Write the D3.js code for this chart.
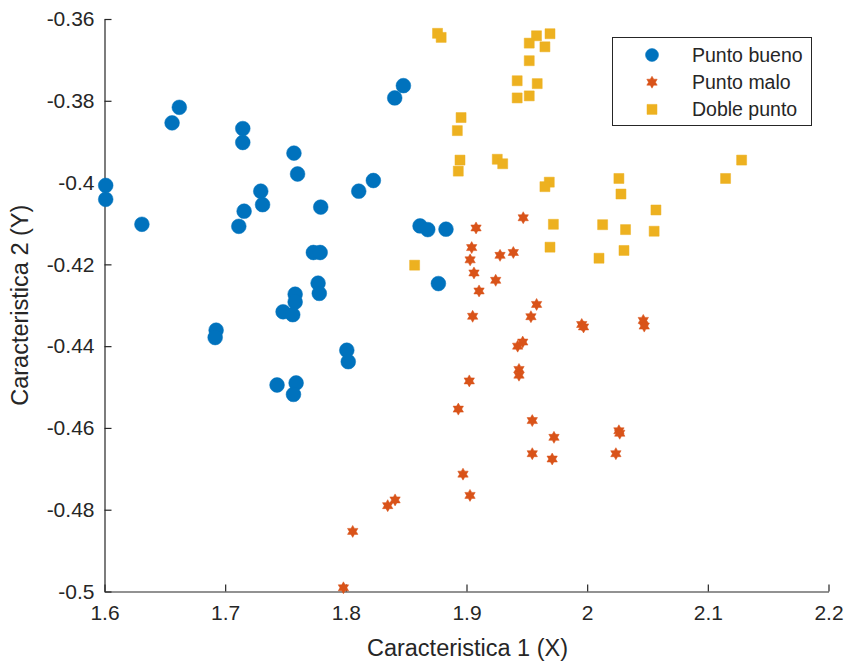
<!DOCTYPE html>
<html>
<head>
<meta charset="utf-8">
<script src="https://cdn.jsdelivr.net/npm/d3@7"></script>
<style>
  html, body { margin: 0; padding: 0; background: #fff; }
  svg { display: block; font-family: "Liberation Sans", Arial, Helvetica, sans-serif; }
</style>
</head>
<body>
<svg id="chart" width="848" height="664"></svg>
<script>
// ---- Data ----
const seriesNames = ["Punto bueno", "Punto malo", "Doble punto"];

const buenoX = [1.601, 1.601, 1.631, 1.662, 1.656, 1.7146, 1.7146, 1.757, 1.760, 1.7295, 1.731, 1.7157, 1.7113,
  1.8477, 1.8405, 1.8228, 1.8107, 1.7792, 1.8615, 1.8679, 1.883, 1.7731, 1.7787, 1.8767, 1.777, 1.778,
  1.758, 1.758, 1.748, 1.756, 1.8008, 1.802, 1.7588, 1.7566, 1.743, 1.6925, 1.6917];
const buenoY = [-0.4007, -0.4041, -0.4102, -0.3816, -0.3854, -0.3868, -0.3902, -0.3928, -0.3979, -0.4021, -0.4054, -0.407, -0.4107,
  -0.3763, -0.3793, -0.3995, -0.4021, -0.406, -0.4106, -0.4115, -0.4114, -0.4171, -0.4171, -0.4247, -0.4246, -0.4271,
  -0.4273, -0.4292, -0.4316, -0.4323, -0.441, -0.4438, -0.449, -0.4518, -0.4495, -0.4361, -0.4379];

const maloX = [1.947, 1.9079, 1.9043, 1.903, 1.9278, 1.9388, 1.9062, 1.9242, 1.9104, 1.9581, 1.9534, 1.9051,
  1.9955, 1.997, 2.0465, 2.0473, 1.9466, 1.9424, 1.9435, 1.9435, 1.9023, 1.8932, 1.9545, 1.9725, 2.0263, 2.027,
  2.0238, 1.9545, 1.971, 1.8971, 1.9029, 1.8408, 1.8347, 1.8057, 1.798];
const maloY = [-0.4086, -0.4111, -0.4159, -0.4189, -0.4178, -0.4171, -0.4221, -0.4239, -0.4265, -0.4298, -0.4328, -0.4327,
  -0.4347, -0.4353, -0.4337, -0.4351, -0.439, -0.44, -0.4457, -0.4471, -0.4485, -0.4554, -0.4582, -0.4623, -0.4607, -0.4613,
  -0.4663, -0.4663, -0.4676, -0.4713, -0.4765, -0.4776, -0.479, -0.4853, -0.4991];

const dobleX = [1.876, 1.879, 1.9692, 1.958, 1.952, 1.965, 1.952, 1.942, 1.9586, 1.942, 1.952, 1.8955, 1.8924,
  1.8946, 1.8932, 1.9255, 1.930, 1.9686, 1.965, 1.972, 1.9692, 1.857, 2.128, 2.1147, 2.0263, 2.028, 2.057,
  2.0128, 2.0318, 2.0555, 2.0305, 2.0098];
const dobleY = [-0.3635, -0.3645, -0.3636, -0.3641, -0.3659, -0.3668, -0.3702, -0.3751, -0.3758, -0.3793, -0.3788, -0.3841, -0.3873,
  -0.3945, -0.3972, -0.3943, -0.3954, -0.3999, -0.401, -0.4102, -0.4158, -0.4202, -0.3945, -0.399, -0.399, -0.4028, -0.4067,
  -0.4103, -0.4115, -0.4119, -0.4166, -0.4185];

const xTicks = [1.6, 1.7, 1.8, 1.9, 2.0, 2.1, 2.2];
const yTicks = [-0.36, -0.38, -0.4, -0.42, -0.44, -0.46, -0.48, -0.5];
const xTickLabels = ["1.6", "1.7", "1.8", "1.9", "2", "2.1", "2.2"];
const yTickLabels = ["-0.36", "-0.38", "-0.4", "-0.42", "-0.44", "-0.46", "-0.48", "-0.5"];
const xLabel = "Caracteristica 1 (X)";
const yLabel = "Caracteristica 2 (Y)";
const colors = ["#0072BD", "#D95319", "#EDB120"];

// ---- Layout ----
const svg = d3.select("#chart");
const plotLeft = 104.5, plotRight = 828.5, plotTop = 19, plotBottom = 591.5;

const x = d3.scaleLinear().domain([1.6, 2.2]).range([plotLeft, plotRight]);
const y = d3.scaleLinear().domain([-0.5, -0.36]).range([plotBottom, plotTop]);

// hexagram symbol (MATLAB 'h' marker)
const hexagram = {
  draw(ctx, size) {
    const R = Math.sqrt(size) / 2;
    const r = R / Math.sqrt(3);
    for (let i = 0; i < 12; i++) {
      const a = -Math.PI / 2 + i * Math.PI / 6;
      const rr = i % 2 === 0 ? R : r;
      const px = rr * Math.cos(a), py = rr * Math.sin(a);
      if (i === 0) ctx.moveTo(px, py); else ctx.lineTo(px, py);
    }
    ctx.closePath();
  }
};

const symbols = [
  d3.symbol().type(d3.symbolCircle).size(Math.PI * 7.4 * 7.4),
  d3.symbol().type(hexagram).size(144),
  d3.symbol().type(d3.symbolSquare).size(100)
];

const series = [
  buenoX.map((v, i) => [v, buenoY[i]]),
  maloX.map((v, i) => [v, maloY[i]]),
  dobleX.map((v, i) => [v, dobleY[i]])
];

// ---- Axes ----
const axisColor = "#262626";
const gx = svg.append("g").attr("transform", `translate(0,${plotBottom})`)
  .call(d3.axisBottom(x).tickValues(xTicks).tickFormat((d, i) => xTickLabels[i]).tickSizeInner(-7).tickSizeOuter(0).tickPadding(14));
const gy = svg.append("g").attr("transform", `translate(${plotLeft},0)`)
  .call(d3.axisLeft(y).tickValues(yTicks).tickFormat((d, i) => yTickLabels[i]).tickSizeInner(-7).tickSizeOuter(0).tickPadding(10));

[gx, gy].forEach(g => {
  g.select(".domain").attr("stroke", axisColor).attr("stroke-width", 1.2);
  g.selectAll(".tick line").attr("stroke", axisColor).attr("stroke-width", 1.2);
  g.selectAll(".tick text").attr("fill", axisColor)
    .style("font-family", '"Liberation Sans", Arial, sans-serif').style("font-size", "21px");
});
gx.selectAll(".tick text").attr("dy", "0.71em");

// ---- Marks ----
series.forEach((pts, s) => {
  svg.append("g").selectAll("path").data(pts).join("path")
    .attr("transform", d => `translate(${x(d[0])},${y(d[1])})`)
    .attr("d", symbols[s]())
    .attr("fill", colors[s])
    .attr("stroke", colors[s])
    .attr("stroke-width", 0.5);
});

// ---- Axis labels ----
svg.append("text")
  .attr("x", (plotLeft + plotRight) / 2 + 1).attr("y", 656)
  .attr("text-anchor", "middle").attr("fill", axisColor)
  .style("font-size", "23.5px").text(xLabel);

svg.append("text")
  .attr("transform", `translate(28,${(plotTop + plotBottom) / 2}) rotate(-90)`)
  .attr("text-anchor", "middle").attr("fill", axisColor)
  .style("font-size", "23.5px").text(yLabel);

// ---- Legend ----
const lg = svg.append("g");
lg.append("rect").attr("x", 612.5).attr("y", 37.5).attr("width", 199).attr("height", 88)
  .attr("fill", "#fff").attr("stroke", axisColor).attr("stroke-width", 1);
seriesNames.forEach((name, i) => {
  const cy = 55 + i * 27.2;
  lg.append("path").attr("transform", `translate(652,${cy})`)
    .attr("d", i === 0 ? d3.symbol().type(d3.symbolCircle).size(Math.PI * 6.5 * 6.5)() : symbols[i]())
    .attr("fill", colors[i]).attr("stroke", colors[i]).attr("stroke-width", 0.5);
  lg.append("text").attr("x", 692).attr("y", cy).attr("dy", "0.35em")
    .attr("fill", axisColor).style("font-size", "19.5px").text(name);
});
</script>
</body>
</html>
